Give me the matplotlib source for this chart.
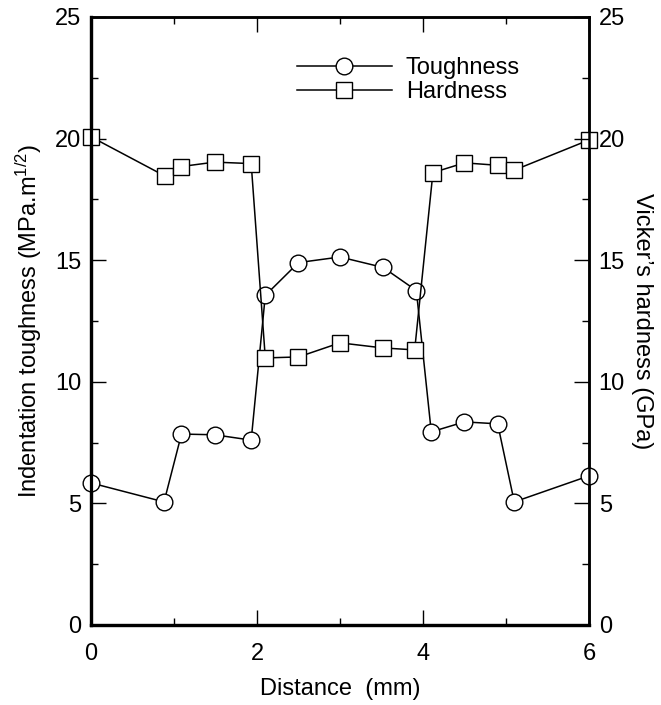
import matplotlib
matplotlib.use("Agg")
import matplotlib.pyplot as plt
from matplotlib.ticker import MultipleLocator

plt.rcParams["font.family"] = ["Liberation Sans", "DejaVu Sans"]
plt.rcParams["mathtext.default"] = "regular"

# toughness profile across the sample
dist_t = [0.0, 0.88, 1.09, 1.49, 1.93, 2.1, 2.5, 3.0, 3.52, 3.92, 4.1, 4.5, 4.9, 5.1, 6.0]
toughness = [5.84, 5.06, 7.85, 7.82, 7.6, 13.55, 14.9, 15.13, 14.7, 13.75, 7.94, 8.35, 8.27, 5.06, 6.13]

# hardness profile across the sample
dist_h = [0.0, 0.89, 1.09, 1.49, 1.93, 2.1, 2.5, 3.0, 3.52, 3.9, 4.12, 4.5, 4.9, 5.1, 6.0]
hardness = [20.07, 18.46, 18.85, 19.03, 18.97, 10.98, 11.02, 11.6, 11.39, 11.31, 18.6, 19.0, 18.9, 18.7, 19.94]

xticks = [0, 2, 4, 6]
yticks = [0, 5, 10, 15, 20, 25]

fs = 17

fig = plt.figure(figsize=(6.61, 7.05), dpi=100)
ax1 = fig.add_axes([0.1377, 0.1135, 0.7533, 0.8625])

ax1.plot(dist_t, toughness, color="black", linewidth=1.1, marker="o",
         markersize=12, markerfacecolor="white", markeredgecolor="black",
         markeredgewidth=1.0, label="Toughness", zorder=3, clip_on=False)
ax1.plot(dist_h, hardness, color="black", linewidth=1.1, marker="s",
         markersize=11.5, markerfacecolor="white", markeredgecolor="black",
         markeredgewidth=1.0, label="Hardness", zorder=3, clip_on=False)

ax1.set_xlim(0, 6)
ax1.set_ylim(0, 25)
ax1.set_xticks(xticks)
ax1.set_yticks(yticks)
ax1.xaxis.set_minor_locator(MultipleLocator(1))
ax1.yaxis.set_minor_locator(MultipleLocator(2.5))
ax1.tick_params(which="both", direction="in", top=True, right=False,
                labelsize=fs, width=1.0)
ax1.tick_params(which="major", length=11)
ax1.tick_params(which="minor", length=5)
ax1.tick_params(axis="y", which="major", pad=7)
ax1.tick_params(axis="x", which="major", pad=13)

ax2 = ax1.twinx()
ax2.set_ylim(0, 25)
ax2.set_yticks(yticks)
ax2.yaxis.set_minor_locator(MultipleLocator(2.5))
ax2.tick_params(which="both", direction="in", labelsize=fs, width=1.0)
ax2.tick_params(which="major", length=11, pad=7)
ax2.tick_params(which="minor", length=5)

for ax in (ax1, ax2):
    for side in ("left", "bottom"):
        ax.spines[side].set_linewidth(2.3)
    for side in ("top", "right"):
        ax.spines[side].set_linewidth(1.8)

ax1.set_xlabel("Distance  (mm)", fontsize=fs, labelpad=9)
ax1.set_ylabel("Indentation toughness (MPa.m$^{1/2}$)", fontsize=fs, labelpad=8)
ax2.set_ylabel("Vicker\u2019s hardness (GPa)", fontsize=fs, rotation=270, labelpad=20)

ax1.legend(loc="upper left", bbox_to_anchor=(0.395, 0.95), frameon=False,
           fontsize=fs, handlelength=4.0, handletextpad=0.6, labelspacing=0.1,
           borderaxespad=0)

fig.savefig("out.png", dpi=100)
